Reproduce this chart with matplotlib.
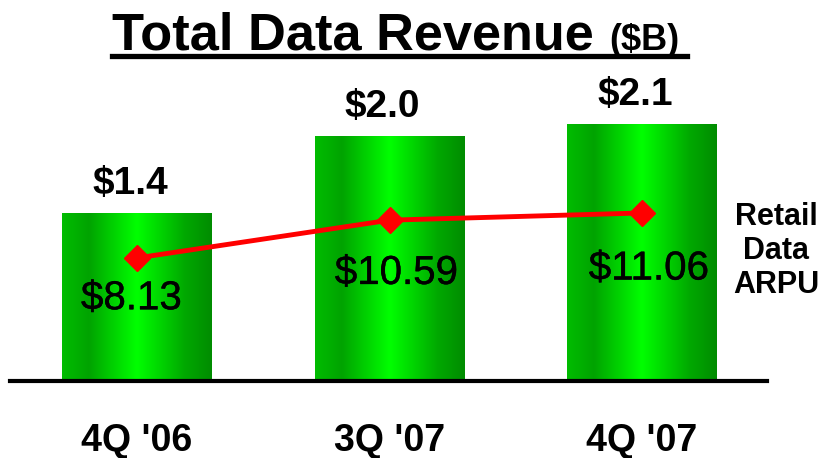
import numpy as np
import matplotlib
matplotlib.use("Agg")
import matplotlib.pyplot as plt
from matplotlib.colors import LinearSegmentedColormap
from matplotlib.lines import Line2D
import matplotlib.patheffects as pe

plt.rcParams['font.family'] = ['Liberation Sans', 'DejaVu Sans']

# ---- data ----
categories = ["4Q '06", "3Q '07", "4Q '07"]
revenue = [1.37, 2.0, 2.1]          # $B
revenue_labels = ["$1.4", "$2.0", "$2.1"]
arpu = [8.13, 10.59, 11.06]         # Retail Data ARPU ($)
arpu_labels = ["$8.13", "$10.59", "$11.06"]

W, H = 830, 458
fig = plt.figure(figsize=(W / 100, H / 100), dpi=100)

def px2fig(x, y):
    return x / W, 1 - y / H

# axes spanning baseline extent
ax_left, ax_right, ax_bottom, ax_top = 10, 767, 381, 81
ax = fig.add_axes([ax_left / W, 1 - ax_bottom / H, (ax_right - ax_left) / W, (ax_bottom - ax_top) / H])
ax.set_facecolor('none')

x = np.arange(len(categories))
bar_w = 0.594
xlim = (-0.503, 2.495)
ylim = (0, 300 / 122.4)

bars = ax.bar(x, revenue, width=bar_w, color='none', edgecolor='none', zorder=2)

# cylinder-like green gradient
cmap = LinearSegmentedColormap.from_list(
    'cyl', [(0.0, (0, 0.74, 0)), (0.18, (0, 0.64, 0)), (0.5, (0, 1.0, 0)),
            (0.82, (0, 0.66, 0)), (1.0, (0, 0.55, 0))])
grad = np.linspace(0, 1, 256).reshape(1, -1)
for b in bars:
    x0 = b.get_x()
    im = ax.imshow(grad, cmap=cmap, aspect='auto', extent=(x0, x0 + b.get_width(), 0, b.get_height()),
                   zorder=2, interpolation='bicubic')
    im.set_clip_path(b)

for xi, v, lab in zip(x, revenue, revenue_labels):
    ax.annotate(lab, (xi, v), xytext=(-5, 21), textcoords='offset points',
                ha='center', va='center', fontsize=28, fontweight='bold', color='black',
                annotation_clip=False)

ax.set_xlim(*xlim)
ax.set_ylim(*ylim)

for s in ['top', 'right', 'left']:
    ax.spines[s].set_visible(False)
ax.spines['bottom'].set_linewidth(3)
ax.spines['bottom'].set_color('black')
ax.set_yticks([])
ax.set_xticks(x)
ax.set_xticklabels(categories, fontsize=27, fontweight='bold')
ax.tick_params(axis='x', length=0, pad=30)

# secondary axis for ARPU
ax2 = ax.twinx()
ax2.set_ylim(0.12, 19.65)
ax2.set_xlim(*xlim)
ax2.axis('off')
ax2.plot(x, arpu, color='#ff0000', lw=3.5, marker='D', markersize=13,
         markeredgecolor='#ff0000', markerfacecolor='#ff0000', zorder=3)
offsets = [(-4, -29), (5, -38), (5, -40)]
for xi, v, lab, off in zip(x, arpu, arpu_labels, offsets):
    ax2.annotate(lab, (xi, v), xytext=off, textcoords='offset points',
                 ha='center', va='center', fontsize=29, color='black',
                 path_effects=[pe.withStroke(linewidth=0.3, foreground='black')])

# series label
for i, t in enumerate(["Retail", "Data", "ARPU"]):
    fig.text(*px2fig(776, 217 + 34 * i), t, ha='center', va='center',
             fontsize=22, fontweight='bold')

# title
fig.text(*px2fig(112, 50), "Total Data Revenue", ha='left', va='baseline',
         fontsize=37.7, fontweight='bold')
fig.text(*px2fig(609, 50), "($B)", ha='left', va='baseline',
         fontsize=26, fontweight='bold')
x0f, yf = px2fig(112, 56)
x1f, _ = px2fig(687, 56)
fig.add_artist(Line2D([x0f, x1f], [yf, yf], color='black', lw=3.8, transform=fig.transFigure))

fig.savefig('out.png', dpi=100)
